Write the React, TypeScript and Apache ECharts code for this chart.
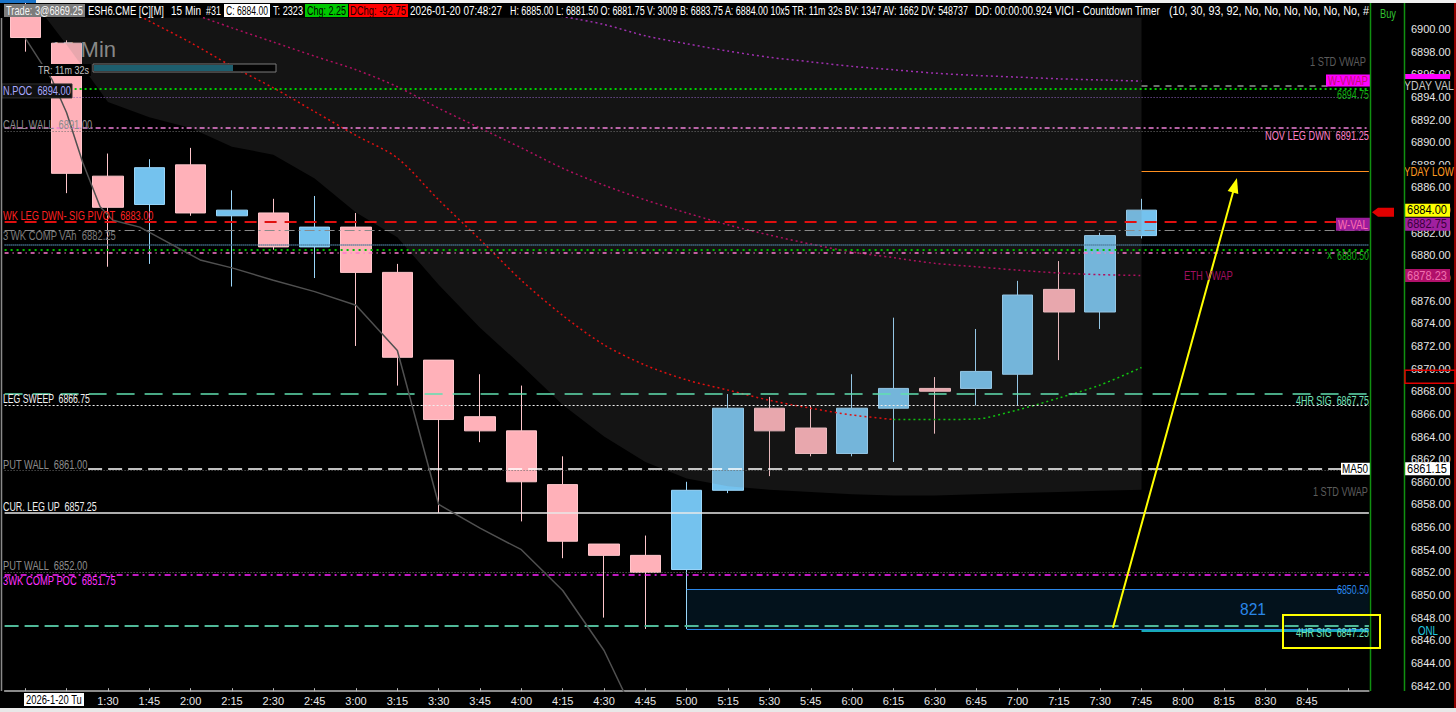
import React, { useEffect, useRef } from "react";
import * as echarts from "echarts";

// ---------------- DATA ----------------
const times = ["1:00","1:15","1:30","1:45","2:00","2:15","2:30","2:45","3:00","3:15","3:30","3:45","4:00","4:15","4:30","4:45","5:00","5:15","5:30","5:45","6:00","6:15","6:30","6:45","7:00","7:15","7:30","7:45","8:00","8:15","8:30","8:45","9:00"];

const opens  = [6902.0,6898.75,6887.0,6884.5,6888.0,6883.5,6883.75,6880.75,6882.5,6878.5,6870.75,6865.75,6864.5,6859.75,6854.5,6853.5,6852.25,6859.25,6866.5,6864.75,6862.5,6866.5,6868.25,6868.25,6869.5,6877.0,6875.0,6881.75];
const closes = [6899.25,6887.25,6884.25,6887.75,6883.75,6884.0,6880.75,6882.5,6878.5,6871.0,6865.5,6864.5,6860.0,6854.75,6853.5,6852.0,6859.25,6866.5,6864.5,6862.5,6866.5,6868.25,6868.0,6869.75,6876.5,6875.0,6881.75,6884.0];
const lows   = [6898.0,6885.5,6879.0,6879.25,6883.5,6877.25,6880.5,6878.0,6872.0,6868.5,6857.25,6863.5,6856.5,6853.25,6848.0,6847.0,6847.0,6859.0,6860.5,6862.25,6862.25,6861.75,6864.25,6866.75,6866.75,6870.75,6873.5,6881.5];
const highs  = [6903.0,6899.0,6889.0,6888.5,6889.5,6885.75,6885.0,6885.25,6883.75,6879.25,6870.75,6869.5,6868.5,6862.25,6854.5,6855.25,6860.0,6867.75,6867.5,6866.75,6869.5,6874.5,6869.25,6873.5,6877.75,6879.5,6882.0,6885.0];

// 1 STD VWAP band (upper edge is above the visible range)
const stdUpper = [6912.0,6911.5,6911.0,6910.5,6910.0,6909.5,6909.0,6908.5,6908.0,6907.5,6907.0,6906.5,6906.0,6905.5,6905.0,6904.5,6904.0,6904.0,6904.0,6904.0,6904.0,6904.0,6904.0,6904.0,6904.0,6904.0,6904.0,6904.0];
const stdLower = [6903.4,6898.6,6893.55,6892.2,6891.25,6889.6,6888.9,6886.8,6883.8,6881.6,6877.4,6873.6,6870.3,6866.8,6864.0,6861.75,6860.3,6859.6,6859.3,6859.1,6858.9,6858.8,6858.8,6858.9,6859.0,6859.1,6859.2,6859.3];

// moving average (red while falling, green while rising)
const maFalling = [6906.5,6905.0,6902.7,6900.7,6898.8,6896.7,6894.8,6892.7,6890.6,6888.6,6884.9,6881.4,6877.8,6874.7,6872.1,6870.3,6869.0,6868.1,6867.2,6866.5,6865.9,6865.5,null,null,null,null,null,null];
const maRising  = [null,null,null,null,null,null,null,null,null,null,null,null,null,null,null,null,null,null,null,null,null,6865.5,6865.5,6865.55,6866.35,6867.4,6868.55,6870.1];

const ethVwap = [6905.5,6904.5,6903.6,6902.6,6901.4,6900.1,6898.85,6897.6,6896.4,6894.9,6893.0,6891.25,6889.5,6887.7,6886.2,6884.9,6883.75,6882.7,6881.8,6881.0,6880.3,6879.8,6879.3,6879.0,6878.7,6878.45,6878.3,6878.23];
const wVwap = [6912.0,6911.0,6910.0,6909.0,6908.0,6907.0,6906.2,6905.4,6904.6,6903.8,6903.0,6902.3,6901.7,6901.1,6900.4,6899.4,6898.7,6898.05,6897.5,6897.1,6896.7,6896.4,6896.1,6895.9,6895.75,6895.6,6895.5,6895.4];

// gray indicator line: [bar position, price]
const grayLine = [[0,6899.2],[0.65,6895.5],[1.0,6892.6],[1.39,6888.2],[1.81,6884.3],[2.12,6883.1],[2.77,6882.5],[4.23,6879.6],[5,6878.9],[6,6877.8],[7,6876.8],[8,6875.6],[9,6871.6],[10,6858.0],[11,6855.9],[12,6854.0],[13,6850.4],[14,6845.1],[14.6,6840.5]];

const priceTicks = [6842,6844,6846,6848,6850,6852,6854,6856,6858,6860,6862,6864,6866,6868,6870,6872,6874,6876,6878,6880,6882,6884,6886,6888,6890,6892,6894,6896,6898,6900];

// arrow drawn on chart: [bar position, price]
const arrowFrom = [26.31, 6847.1];
const arrowTo = [29.26, 6886.2];

// ---------------- HELPERS ----------------
const FONT = "'Liberation Sans', Arial, sans-serif";
let _ctx: CanvasRenderingContext2D | null = null;
function measure(text: string, font: string) {
  if (!_ctx) _ctx = document.createElement("canvas").getContext("2d");
  _ctx!.font = font;
  return _ctx!.measureText(text).width || 1;
}
function fit(text: string, x: number, y: number, w: number, fill: string, size = 12, z = 60) {
  const font = `${size}px ${FONT}`;
  const m = measure(text, font);
  return {
    type: "text", x, y, scaleX: w ? w / m : 1, z, silent: true,
    style: { text, fill, font, textAlign: "left", textVerticalAlign: "middle", align: "left", verticalAlign: "middle" },
  };
}
function rect(x: number, y: number, w: number, h: number, fill: string, stroke?: string, lw = 1, z = 55) {
  return { type: "rect", z, silent: true, shape: { x, y, width: w, height: h }, style: { fill, stroke: stroke || null, lineWidth: lw } };
}
function vline(x: number, y1: number, y2: number, color: string, w = 1, z = 55) {
  return { type: "line", z, silent: true, shape: { x1: x, y1, x2: x, y2 }, style: { stroke: color, lineWidth: w } };
}
const full = (p: number, color: string, width: number, type: any) => ({ yAxis: p, lineStyle: { color, width, type } });
const part = (x0: number, x1: number, p: number, color: string, width: number, type: any) => [
  { coord: [x0, p], lineStyle: { color, width, type } },
  { coord: [x1, p] },
];

function buildGraphics(Y: (p: number) => number) {
  const g: any[] = [];
  // window chrome & header
  g.push(rect(0, 0, 1456, 3, "#f0f0f0", undefined, 1, 50));
  g.push(rect(0, 0, 36, 3, "#1a73c8", undefined, 1, 51));
  g.push(rect(4, 4, 81, 13, "#7c7c7c"));
  g.push(fit("Trade: 3@6869.25", 6, 10.5, 77, "#f4f4f4", 13));
  g.push(fit("ESH6.CME [C][M]", 88, 10.5, 76, "#ffffff", 13));
  g.push(fit("15 Min", 171, 10.5, 30, "#ffffff", 13));
  g.push(fit("#31", 206, 10.5, 15, "#ffffff", 13));
  g.push(rect(224, 4, 46, 13, "#ffffff"));
  g.push(fit("C: 6884.00", 226, 10.5, 42, "#000000", 13));
  g.push(fit("T: 2323", 273, 10.5, 30, "#ffffff", 13));
  g.push(rect(305, 4, 43, 13, "#00c800"));
  g.push(fit("Chg: 2.25", 307, 10.5, 39, "#000000", 13));
  g.push(rect(349, 4, 59, 13, "#ff0000"));
  g.push(fit("DChg: -92.75", 350, 10.5, 56, "#200000", 13));
  g.push(fit("2026-01-20 07:48:27", 410, 10.5, 92, "#ffffff", 13));
  g.push(fit("H: 6885.00 L: 6881.50 O: 6881.75 V: 3009 B: 6883.75 A: 6884.00 10x5 TR: 11m 32s BV: 1347 AV: 1662 DV: 548737", 510, 10.5, 460, "#ffffff", 13));
  g.push(fit("DD: 00:00:00.924 VICI - Countdown Timer", 975, 10.5, 185, "#ffffff", 13));
  g.push(fit("(10, 30, 93, 92, No, No, No, No, No, No, #", 1169, 10.5, 200, "#ffffff", 13));
  g.push(fit("Buy", 1380, 14, 16, "#30c030", 12));
  // frame lines
  g.push(vline(1370.5, 3, 691, "#109010", 1.5, 70));
  g.push(vline(1404.5, 3, 691, "#109010", 1.5, 70));
  g.push(vline(1455, 3, 712, "#c00000", 1.5, 70));
  g.push(vline(1.5, 18, 691, "#8a8a8a", 1.5, 70));
  g.push(rect(0, 708, 1456, 4, "#e8e8e8", undefined, 1, 70));
  // date box on the time axis
  g.push(rect(24, 693, 60, 13, "#ffffff"));
  g.push(fit("2026-1-20 Tu", 26, 699.5, 56, "#000000", 12));
  // watermark & countdown
  g.push({ type: "text", x: 50, y: 49, z: 0, silent: true, style: { text: "15 Min", fill: "#8c8c8c", font: `22px ${FONT}`, textAlign: "left", textVerticalAlign: "middle", align: "left", verticalAlign: "middle" } });
  g.push(rect(36, 64, 55, 12, "#000000", undefined, 1, 57));
  g.push(fit("TR: 11m 32s", 38, 70, 51, "#c0c0c0", 11));
  g.push(rect(93, 64, 183, 8, "#050505", "#7a7a7a", 1));
  g.push(rect(94, 65, 139, 6, "#1d5e6e", undefined, 1, 56));

  // left level labels
  const L = (t: string, p: number, off: number, w: number, c: string) => g.push(fit(t, 3, Y(p) + off, w, c, 12));
  g.push(rect(2, Y(6894) - 13, 70, 14, "#101010", "#303030", 1));
  L("N.POC  6894.00", 6894, -6, 68, "#a8a8ff");
  L("CALL WALL  6891.00", 6891, -6, 90, "#8c8c8c");
  L("WK LEG DWN- SIG PIVOT  6883.00", 6883, -6.4, 151, "#ff2020");
  L("3 WK COMP VAh  6882.25", 6882.25, 6, 113, "#7c7c7c");
  L("LEG SWEEP  6866.75", 6866.75, -6, 87, "#f0f0f0");
  L("PUT WALL  6861.00", 6861, -5.5, 85, "#8c8c8c");
  L("CUR. LEG UP  6857.25", 6857.25, -6, 94, "#f0f0f0");
  L("PUT WALL  6852.00", 6852, -6.7, 85, "#8c8c8c");
  L("3WK COMP POC  6851.75", 6851.75, 5.5, 113, "#ff30ff");

  // right level labels
  const R = (t: string, p: number, off: number, x: number, w: number, c: string, size = 12) => g.push(fit(t, x, Y(p) + off, w, c, size));
  R("1 STD VWAP", 6897.1, 0, 1310, 56, "#5c5c5c");
  g.push(rect(1326, Y(6895.5) - 5.5, 44, 12, "#ff00ff"));
  R("W-VWAP", 6895.5, 0.5, 1328, 40, "#c01070");
  R("6894.75", 6894.75, 5.6, 1337, 32, "#10b010");
  R("NOV LEG DWN  6891.25", 6891.25, 7, 1265, 104, "#ff80c8");
  g.push(rect(1336, Y(6882.75) - 6.5, 34, 13, "#9c1c9c"));
  R("W-VAL", 6882.75, 0, 1338, 30, "#ff70b0");
  R("x", 6880.5, 5, 1327, 5, "#10b010");
  R("6880.50", 6880.5, 6, 1337, 32, "#10b010");
  R("ETH VWAP", 6878.23, 0.5, 1184, 49, "#a01060");
  R("4HR SIG  6867.75", 6867.75, 6.6, 1296, 73, "#70e0b8");
  g.push(rect(1341, Y(6861.15) - 6, 29, 12, "#ffffff"));
  R("MA50", 6861.15, 0, 1342, 26, "#000000");
  R("1 STD VWAP", 6859.3, 1.5, 1313, 55, "#5c5c5c");
  R("6850.50", 6850.5, 0, 1337, 32, "#2a86e8");
  R("821", 6848.75, 0, 1240, 26, "#2a86e8", 16);
  R("4HR SIG  6847.25", 6847.25, 6.5, 1296, 73, "#70e0b8");
  g.push(rect(1283, Y(6847.25) - 11, 97, 33, null as any, "#ffff00", 2, 80));

  // right price axis tags
  g.push(rect(1405, 74, 45, 5, "#ff00ff"));
  g.push(rect(1402, Y(6895.0) - 6.5, 54, 13, "#000000"));
  R("YDAY VAL", 6895.0, 0, 1404, 50, "#c8c8c8");
  g.push(rect(1402, Y(6887.4) - 7, 54, 14, "#000000"));
  R("YDAY LOW", 6887.4, 0, 1404, 50, "#ff9a20");
  g.push(rect(1405, Y(6884) - 6.5, 45, 13, "#ffff00"));
  R("6884.00", 6884, 0, 1407, 40, "#000000");
  g.push(rect(1405, Y(6882.75) - 6.5, 45, 13, "#a020a0"));
  R("6882.75", 6882.75, 0, 1407, 40, "#3a003a");
  g.push(rect(1405, Y(6878.23) - 6.5, 45, 13, "#b0106a"));
  R("6878.23", 6878.23, 0, 1407, 40, "#f070b0");
  g.push(rect(1405, Y(6861.15) - 6.5, 45, 13, "#ffffff"));
  R("6861.15", 6861.15, 0, 1407, 40, "#000000");
  R("ONL", 6846.75, -1, 1418, 20, "#20c8e0");
  const ya = Y(6884) + 2;
  g.push({ type: "polygon", z: 80, silent: true, shape: { points: [[1372, ya], [1378, ya - 4.5], [1394, ya - 4.5], [1394, ya + 4.5], [1378, ya + 4.5]] }, style: { fill: "#e00000" } });
  g.push(rect(1405, Y(6869.85), 50, Y(6868.7) - Y(6869.85), null as any, "#e00000", 1.5, 80));
  return g;
}

// ---------------- OPTION ----------------
function buildOption() {
  const candles = opens.map((o, i) => [o, closes[i], lows[i], highs[i]]);
  const span = stdUpper.map((u, i) => u - stdLower[i]);
  return {
    animation: false,
    backgroundColor: "#000000",
    grid: { left: 4.6, top: 17.7, width: 1364.3, height: 673.5, containLabel: false },
    xAxis: [
      {
        type: "category", data: times, boundaryGap: true,
        axisLine: { lineStyle: { color: "#b8b8b8", width: 1.5 } },
        axisTick: { show: true, inside: true, length: 3, alignWithLabel: true, interval: 0, lineStyle: { color: "#b8b8b8" } },
        axisLabel: {
          interval: 0, margin: 4, color: "#e6e6e6", fontSize: 11, fontFamily: FONT,
          formatter: (v: string, i: number) => (i < 2 || i > 31 ? "" : v),
        },
        splitLine: { show: false },
      },
      { type: "value", min: -0.5, max: 32.5, show: false },
    ],
    yAxis: {
      type: "value", position: "right", min: 6841.5, max: 6901, interval: 0.5, scale: true,
      axisLine: { show: false }, axisTick: { show: false }, splitLine: { show: false },
      axisLabel: {
        interval: 0, margin: 42, color: "#e6e6e6", fontSize: 11, fontFamily: FONT,
        formatter: (v: number) => (priceTicks.indexOf(Math.round(v * 100) / 100) >= 0 ? v.toFixed(2) : ""),
      },
    },
    series: [
      {
        name: "box", type: "line", xAxisIndex: 1, z: 1, symbol: "none",
        data: [[16, 6850.5], [31.85, 6850.5]], lineStyle: { width: 0, opacity: 0 },
        markArea: { silent: true, itemStyle: { color: "#03121c" }, data: [[{ coord: [16, 6850.5] }, { coord: [32.5, 6847.0] }]] },
      },
      {
        name: "price", type: "candlestick", xAxisIndex: 0, z: 2, barWidth: 31, data: candles,
        itemStyle: { color: "#74c2ee", color0: "#ffb1b9", borderColor: "#9ad6fa", borderColor0: "#ffc6cb", borderWidth: 1 },
      },
      { name: "stdLow", type: "line", stack: "band", z: 3, symbol: "none", data: stdLower, lineStyle: { width: 0, opacity: 0 } },
      { name: "stdBand", type: "line", stack: "band", z: 3, symbol: "none", data: span, lineStyle: { width: 0, opacity: 0 }, areaStyle: { color: "rgba(120,120,120,0.17)", opacity: 1 } },
      { name: "W-VWAP", type: "line", z: 4, symbol: "none", data: wVwap, smooth: 0.3, lineStyle: { color: "#a030b0", width: 1.5, type: [2, 3] } },
      { name: "ETH VWAP", type: "line", z: 4, symbol: "none", data: ethVwap, smooth: 0.3, lineStyle: { color: "#b01060", width: 1.5, type: [2, 3] } },
      { name: "MA down", type: "line", z: 4, symbol: "none", data: maFalling, smooth: 0.3, lineStyle: { color: "#e01010", width: 1.5, type: [2, 3] } },
      { name: "MA up", type: "line", z: 4, symbol: "none", data: maRising, smooth: 0.3, lineStyle: { color: "#10c010", width: 1.5, type: [2, 3] } },
      {
        name: "levels", type: "line", xAxisIndex: 1, z: 5, symbol: "none", data: grayLine,
        lineStyle: { color: "#505050", width: 1.5 },
        markLine: {
          silent: true, symbol: ["none", "none"], label: { show: false }, animation: false,
          data: [
            full(6894.75, "#00d000", 2, [2, 3]),
            full(6894.0, "#9060c0", 1, [1, 2]),
            full(6891.25, "#f080d8", 1.5, [5, 3, 2, 3]),
            full(6891.0, "#707070", 1, [1, 2]),
            full(6883.0, "#e01010", 2, [12, 8]),
            full(6882.25, "#8a8a8a", 1, [10, 4, 2, 4]),
            full(6880.98, "#4a7a9a", 2, [1, 1]),
            full(6880.5, "#00c000", 2, [2, 4]),
            full(6880.25, "#ff78d0", 1.5, [4, 4, 1, 4]),
            full(6867.75, "#60e0b0", 1.5, [18, 10]),
            full(6866.75, "#f0f0f0", 1, [2, 2]),
            full(6861.0, "#6a6a6a", 1, [1, 2]),
            full(6857.25, "#e8e8e8", 1.5, "solid"),
            full(6852.0, "#777777", 1, [1, 2]),
            full(6851.75, "#ff20ff", 1.5, [6, 4, 2, 4]),
            full(6847.25, "#50b898", 2, [14, 6]),
            part(1.52, 32.5, 6861.15, "#ffffff", 1.5, [14, 6]),
            part(16, 31.85, 6850.5, "#2a86e8", 1, "solid"),
            part(16, 32.5, 6847.0, "#2a86e8", 1, "solid"),
            part(27, 32.5, 6887.4, "#ff9020", 1, "solid"),
            part(27, 31.6, 6895.0, "#909090", 1.5, [6, 6]),
            part(27, 32.5, 6846.8, "#18a8b8", 2, "solid"),
            [
              { coord: arrowFrom, symbol: "none", lineStyle: { color: "#ffff00", width: 2, type: "solid" } },
              { coord: arrowTo, symbol: "triangle", symbolSize: [11, 15] },
            ],
          ],
        },
      },
    ],
  };
}

export default function App() {
  const ref = useRef<HTMLDivElement>(null);
  useEffect(() => {
    const el = ref.current!;
    const chart = echarts.init(el, null, { renderer: "svg" });
    chart.setOption(buildOption() as any);
    const Y = (p: number) => chart.convertToPixel({ yAxisIndex: 0 } as any, p) as unknown as number;
    chart.setOption({ graphic: { elements: buildGraphics(Y) } } as any);
    return () => chart.dispose();
  }, []);
  return (
    <div
      ref={ref}
      style={{ position: "fixed", left: 0, top: 0, width: 1456, height: 712, background: "#000" }}
    />
  );
}
